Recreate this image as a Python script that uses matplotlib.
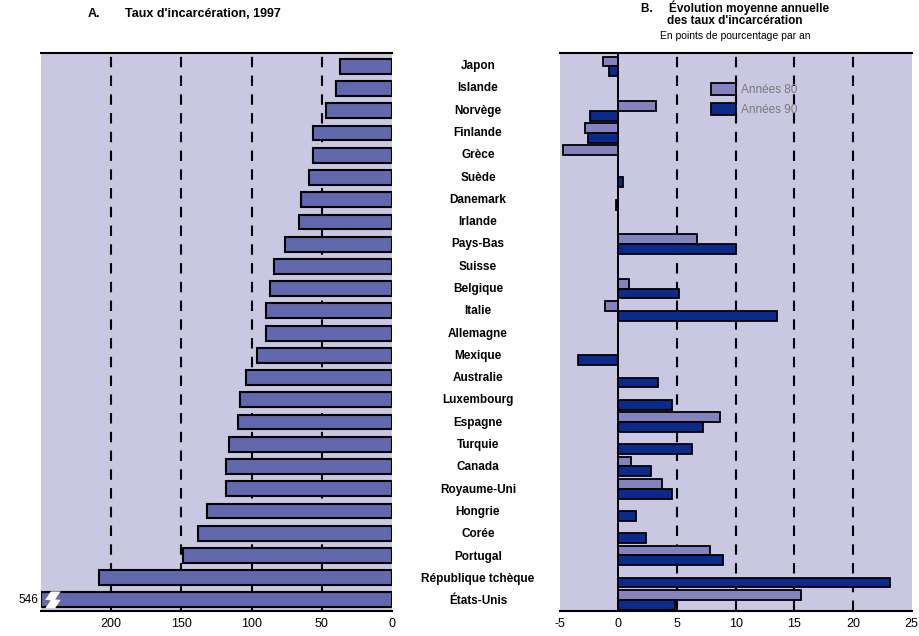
import matplotlib.pyplot as plt
from matplotlib.patches import Polygon
import numpy as np

plt.rcParams['font.family'] = ['Liberation Sans', 'DejaVu Sans']
plt.rcParams['axes.unicode_minus'] = False

countries = ['Japon', 'Islande', 'Norvège', 'Finlande', 'Grèce', 'Suède', 'Danemark',
             'Irlande', 'Pays-Bas', 'Suisse', 'Belgique', 'Italie', 'Allemagne', 'Mexique',
             'Australie', 'Luxembourg', 'Espagne', 'Turquie', 'Canada', 'Royaume-Uni',
             'Hongrie', 'Corée', 'Portugal', 'République tchèque', 'États-Unis']

# Panel A: incarceration rate 1997 (US truncated, real value 546)
rate_1997 = [37, 40, 47, 56, 56, 59, 65, 66, 76, 84, 87, 90, 90, 96,
             104, 108, 110, 116, 118, 118, 132, 138, 149, 209, 546]
us_value_label = '546'

# Panel B: average annual change, percentage points per year
change_80s = [-1.3, 0, 3.2, -2.8, -4.7, 0, 0, 0, 6.7, 0, 0.9, -1.1, 0, 0,
              0, 0, 8.7, 0, 1.1, 3.7, 0, 0, 7.8, 0, 15.6]
change_90s = [-0.8, 0, -2.4, -2.6, 0, 0.4, -0.2, 0, 10.0, 0, 5.2, 13.5, 0, -3.4,
              3.4, 4.6, 7.2, 6.3, 2.8, 4.6, 1.5, 2.4, 8.9, 23.2, 4.8]

bg = '#c9c7e1'
col_a = '#6268ad'
col_80 = '#8482bf'
col_90 = '#0a2a8c'

fig = plt.figure(figsize=(9.2, 6.36), dpi=100)
axA = fig.add_axes([41 / 920, 1 - 611 / 636, 351 / 920, 558 / 636])
axB = fig.add_axes([559.6 / 920, 1 - 611 / 636, 352 / 920, 558 / 636])

y = np.arange(len(countries))

# ---- Panel A
xmaxA = 250
vals_a = [min(v, xmaxA) for v in rate_1997]
axA.set_facecolor(bg)
axA.barh(y, vals_a, height=0.67, color=col_a, edgecolor='black', linewidth=1.5, zorder=3)
axA.set_xlim(xmaxA, 0)
axA.set_ylim(len(countries) - 0.5, -0.6)
for g in [50, 100, 150, 200]:
    axA.axvline(g, color='black', linestyle=(0, (5, 4)), linewidth=1.5, zorder=2)
axA.set_xticks([200, 150, 100, 50, 0])
axA.set_yticks([])
axA.tick_params(axis='x', length=0, labelsize=9, pad=5)
for s in ['left', 'right']:
    axA.spines[s].set_visible(False)
axA.spines['top'].set_linewidth(1.5)
axA.spines['bottom'].set_linewidth(1.5)

# break mark on the US bar
us = len(countries) - 1
bolt = Polygon([(243, us - 0.38), (236, us - 0.38), (240, us - 0.02), (236, us + 0.0),
                (240, us + 0.38), (247, us + 0.38), (243, us + 0.02), (247, us + 0.0)],
               closed=True, facecolor='white', edgecolor='none', zorder=4)
axA.add_patch(bolt)
axA.text(252, us, us_value_label, ha='right', va='center', fontsize=8.5, clip_on=False)

# country labels between the panels
for i, c in enumerate(countries):
    fig.text(478 / 920, 1 - (66 + i * 22.3) / 636, c, ha='center', va='center',
             fontsize=8.5, fontweight='bold')

# ---- Panel B
h = 0.44
axB.set_facecolor(bg)
axB.barh(y - h / 2, change_80s, height=h, color=col_80, edgecolor='black',
         linewidth=1.3, zorder=3, label='Années 80')
axB.barh(y + h / 2, change_90s, height=h, color=col_90, edgecolor='black',
         linewidth=1.3, zorder=3, label='Années 90')
axB.set_xlim(-5, 25)
axB.set_ylim(len(countries) - 0.5, -0.6)
for g in [5, 10, 15, 20]:
    axB.axvline(g, color='black', linestyle=(0, (5, 4)), linewidth=1.5, zorder=2)
axB.axvline(0, color='black', linewidth=1.4, zorder=4)
axB.set_xticks([-5, 0, 5, 10, 15, 20, 25])
axB.set_yticks([])
axB.tick_params(axis='x', length=0, labelsize=9, pad=5)
for s in ['left', 'right']:
    axB.spines[s].set_visible(False)
axB.spines['top'].set_linewidth(1.5)
axB.spines['bottom'].set_linewidth(1.5)
leg = axB.legend(loc='upper left', bbox_to_anchor=(0.4, 0.965), frameon=False,
                 fontsize=8.5, handlelength=2.1, handleheight=1.2, labelspacing=0.55,
                 handletextpad=0.4)
for t in leg.get_texts():
    t.set_color('#7a7a7a')

# ---- Titles
fig.text(88 / 920, 1 - 14 / 636, 'A.', ha='left', va='center', fontsize=9, fontweight='bold')
fig.text(125 / 920, 1 - 14 / 636, "Taux d'incarcération, 1997", ha='left', va='center',
         fontsize=9, fontweight='bold')
fig.text(735 / 920, 1 - 0.5 / 636, 'B.     Évolution moyenne annuelle', ha='center', va='top',
         fontsize=8.5, fontweight='bold')
fig.text(735 / 920, 1 - 21 / 636, "des taux d'incarcération", ha='center', va='center',
         fontsize=8.5, fontweight='bold')
fig.text(735 / 920, 1 - 36 / 636, 'En points de pourcentage par an', ha='center', va='center',
         fontsize=7.5)

fig.savefig('out.png', dpi=100)
